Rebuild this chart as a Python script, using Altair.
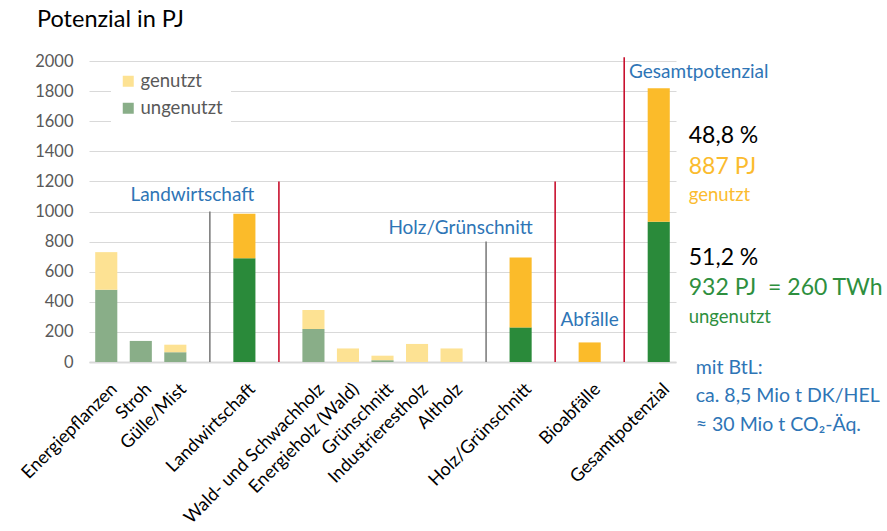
import altair as alt
import pandas as pd

# ---------------- data ----------------
slots = ["Energiepflanzen", "Stroh", "Gülle/Mist", "sep1", "Landwirtschaft", "sep2",
         "Wald- und Schwachholz", "Energieholz (Wald)", "Grünschnitt", "Industrierestholz",
         "Altholz", "sep3", "Holz/Grünschnitt", "sep4", "Bioabfälle", "sep5", "Gesamtpotenzial"]
genutzt = [250, 0, 50, None, 295, None, 125, 90, 30, 120, 90, None, 465, None, 130, None, 887]
ungenutzt = [480, 140, 65, None, 690, None, 220, 0, 12, 0, 0, None, 230, None, 0, None, 932]
summary = ["Landwirtschaft", "Holz/Grünschnitt", "Bioabfälle", "Gesamtpotenzial"]
y_ticks = [0, 200, 400, 600, 800, 1000, 1200, 1400, 1600, 1800, 2000]

sep_slots = ["sep1", "sep2", "sep3", "sep4", "sep5"]
sep_tops = [1000, 1200, 800, 1200, 2025]
sep_colors = ["#7f7f7f", "#c8102e", "#7f7f7f", "#c8102e", "#c8102e"]

group_text = ["Landwirtschaft", "Holz/Grünschnitt", "Abfälle", "Gesamtpotenzial"]
group_slot = ["Gülle/Mist", "Altholz", "Bioabfälle", "Gesamtpotenzial"]
group_value = [1110, 890, 279, 1927]
group_dx = [17, 9, 0, 40]

note_text = ["48,8 %", "887 PJ", "genutzt", "51,2 %", "932 PJ\u00a0\u00a0= 260 TWh", "ungenutzt"]
note_value = [1500, 1299, 1110, 694, 492, 299]
note_color = ["#000000", "#fbbb2e", "#fbbb2e", "#000000", "#2e8f3e", "#2e8f3e"]
note_size = [23, 23, 18.5, 23, 23, 18.5]

btl_text = ["mit BtL:", "ca. 8,5 Mio t DK/HEL", "≈ 30 Mio t CO₂-Äq."]
btl_value = [-38, -228, -418]

# ---------------- tables ----------------
rows = []
for s, g, u in zip(slots, genutzt, ungenutzt):
    if g is None:
        continue
    suffix = " Σ" if s in summary else ""
    rows.append({"slot": s, "wert": u, "art": "ungenutzt" + suffix, "ord": 0})
    rows.append({"slot": s, "wert": g, "art": "genutzt" + suffix, "ord": 1})
bars_df = pd.DataFrame(rows)

sep_df = pd.DataFrame({"slot": sep_slots, "base": [0] * len(sep_slots), "top": sep_tops, "farbe": sep_colors})
group_df = pd.DataFrame({"slot": group_slot, "wert": group_value, "text": group_text})
note_df = pd.DataFrame({"slot": ["Gesamtpotenzial"] * len(note_text), "wert": note_value,
                        "text": note_text, "farbe": note_color, "gr": note_size})
btl_df = pd.DataFrame({"slot": ["Gesamtpotenzial"] * len(btl_text), "wert": btl_value, "text": btl_text})

FONT = "Lato"
BLUE = "#2e75b6"

xscale = alt.Scale(domain=slots, paddingInner=0.36, paddingOuter=0.18)
yscale = alt.Scale(domain=[0, 2000])

x_axis = alt.Axis(title=None, labelAngle=-45, labelFontSize=18, labelColor="#000000",
                  labelFont=FONT, ticks=False, domainColor="#d9d9d9", domainWidth=2, grid=False,
                  labelPadding=18, labelOffset=2, labelLimit=300, labelOverlap=False,
                  labelExpr="indexof(datum.value, 'sep') == 0 ? '' : datum.value")
y_axis = alt.Axis(title=None, values=y_ticks, format="d", labelOverlap=False,
                  labelFontSize=16.5, labelColor="#595959", labelFont=FONT,
                  domain=False, ticks=False, labelPadding=16, grid=True,
                  gridColor="#d9d9d9", gridWidth=1)


def X():
    return alt.X("slot:N", scale=xscale, sort=slots, axis=x_axis)


def Y(field):
    return alt.Y(field, scale=yscale, axis=y_axis)


bars = alt.Chart(bars_df).mark_bar().encode(
    x=X(),
    y=alt.Y("wert:Q", stack="zero", scale=yscale, axis=y_axis),
    color=alt.Color("art:N",
                    scale=alt.Scale(domain=["genutzt", "ungenutzt", "genutzt Σ", "ungenutzt Σ"],
                                    range=["#fde293", "#89ae88", "#fbbb2a", "#2a8a3a"]),
                    legend=alt.Legend(values=["genutzt", "ungenutzt"], title=None, orient="none",
                                      legendX=22, legendY=3, symbolType="square", symbolSize=121,
                                      symbolStrokeWidth=0, labelFontSize=18.5, labelColor="#595959",
                                      labelFont=FONT, rowPadding=8, labelOffset=3,
                                      fillColor="white", padding=8)),
    order=alt.Order("ord:Q"),
)

seps = alt.Chart(sep_df).mark_rule(strokeWidth=1.6).encode(
    x=X(),
    y=Y("base:Q"),
    y2=alt.Y2("top:Q"),
    color=alt.Color("farbe:N", scale=None),
)

group_layers = []
for i in range(len(group_text)):
    sub = group_df.iloc[[i]]
    group_layers.append(
        alt.Chart(sub).mark_text(font=FONT, fontSize=19, color=BLUE, baseline="middle",
                                 align="center", dx=group_dx[i]).encode(
            x=X(),
            y=Y("wert:Q"),
            text="text:N",
        )
    )

notes = alt.Chart(note_df).mark_text(font=FONT, align="left", baseline="middle", dx=30).encode(
    x=X(),
    y=Y("wert:Q"),
    text="text:N",
    color=alt.Color("farbe:N", scale=None),
    size=alt.Size("gr:Q", scale=None),
)

btl = alt.Chart(btl_df).mark_text(font=FONT, align="left", baseline="middle", dx=37,
                                  fontSize=19.5, color=BLUE).encode(
    x=X(),
    y=Y("wert:Q"),
    text="text:N",
)

chart = alt.layer(bars, seps, *group_layers, notes, btl).properties(
    width=587, height=301,
    title=alt.TitleParams("Potenzial in PJ", anchor="start", frame="group", fontSize=23.5,
                          font=FONT, fontWeight="normal", color="#000000", dx=-52, offset=22),
    autosize=alt.AutoSizeParams(type="none"),
    padding={"left": 89, "top": 61, "right": 211, "bottom": 169},
).configure_view(stroke=None)

chart.save("out.html", embed_options={"renderer": "svg", "actions": False})
